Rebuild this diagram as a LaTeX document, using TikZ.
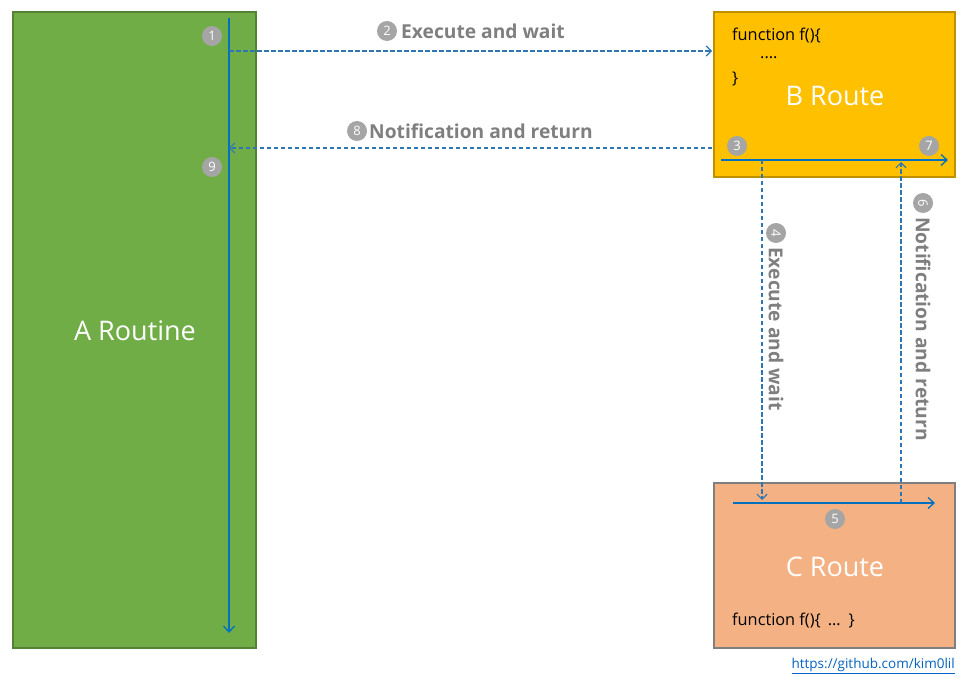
\documentclass[tikz,border=0pt]{standalone}
\usepackage{fontspec}
\setmainfont{Open Sans}
\usetikzlibrary{arrows.meta}
\definecolor{agreen}{HTML}{70AD47}
\definecolor{agreenb}{HTML}{548235}
\definecolor{byellow}{HTML}{FFC000}
\definecolor{byellowb}{HTML}{BF9000}
\definecolor{corange}{HTML}{F4B183}
\definecolor{corangeb}{HTML}{7F7F7F}
\definecolor{flowblue}{HTML}{0070C0}
\definecolor{dashblue}{HTML}{2E75B6}
\definecolor{numgray}{HTML}{A5A5A5}
\definecolor{labgray}{HTML}{7F7F7F}
\definecolor{linkblue}{HTML}{0563C1}
\begin{document}
\begin{tikzpicture}[x=1pt,y=-1pt,
  box/.style={draw, line width=1.5pt, inner sep=0pt},
  title/.style={text=white, font=\fontsize{27}{30}\selectfont},
  code/.style={text=black, font=\fontsize{16.3}{18}\selectfont, anchor=west, inner sep=0pt},
  flow/.style={draw=flowblue, line width=1.3pt, -{Straight Barb[length=6pt,width=11pt,line width=1.3pt]}},
  call/.style={draw=dashblue, line width=1.2pt, dash pattern=on 4.5pt off 2.5pt, -{Straight Barb[length=5pt,width=10pt,line width=1.2pt]}},
  num/.style={circle, fill=numgray, text=white, minimum size=20pt, inner sep=0pt, font=\fontsize{13}{14}\selectfont},
  lab/.style={text=labgray, font=\bfseries\fontsize{19.2}{21}\selectfont, inner sep=0pt}
]
\useasboundingbox[fill=white] (0,0) rectangle (966,684);

% boxes
\node[box, draw=agreenb, fill=agreen, minimum width=243pt, minimum height=636pt] (A) at (134.5,330) {};
\node[box, draw=byellowb, fill=byellow, minimum width=241pt, minimum height=165pt] (B) at (834.5,94.5) {};
\node[box, draw=corangeb, fill=corange, minimum width=241pt, minimum height=165pt] (C) at (834.5,565.5) {};

\node[title] (At) at (135,331) {A Routine};
\node[title] (Bt) at (835,96) {B Route};
\node[title] (Ct) at (835,567) {C Route};

\node[code] (bc1) at (732,36) {function f()\{};
\node[code] (bc2) at (760,58) {....};
\node[code] (bc3) at (732,79) {\}};
\node[code] (cc1) at (732,621) {function f()\{\hspace{7pt}…\hspace{8pt}\}};

% coordinates
\coordinate (a1) at (229,18);
\coordinate (a2) at (229,633);
\coordinate (a3) at (229,51);
\coordinate (b0) at (712,51);
\coordinate (b1) at (712,148);
\coordinate (a4) at (229,148);
\coordinate (b2) at (721,160);
\coordinate (b3) at (948,160);
\coordinate (b4) at (762,160);
\coordinate (c0) at (762,500);
\coordinate (c1) at (733,503);
\coordinate (c2) at (935,503);
\coordinate (c3) at (901,503);
\coordinate (b5) at (901,162);

% flows
\draw[flow] (a1) -- (a2);
\draw[flow] (b2) -- (b3);
\draw[flow] (c1) -- (c2);
\draw[call] (a3) -- (b0);
\draw[call] (b1) -- (a4);
\draw[call] (b4) -- (c0);
\draw[call] (c3) -- (b5);

% numbers
\node[num] (n1) at (212,36) {1};
\node[num] (n9) at (212,167) {9};
\node[num] (n2) at (387,31) {2};
\node[num] (n8) at (357,131) {8};
\node[num] (n3) at (737,146) {3};
\node[num] (n7) at (929,146) {7};
\node[num] (n5) at (835,519) {5};
\node[num, rotate=-90] (n4) at (776,233) {4};
\node[num, rotate=-90] (n6) at (923,203) {6};

% labels
\node[lab, anchor=west] (l2) at (401,31) {Execute and wait};
\node[lab, anchor=west] (l8) at (369,131) {Notification and return};
\node[lab, anchor=west, rotate=-90] (l4) at (776,247) {Execute and wait};
\node[lab, anchor=west, rotate=-90] (l6) at (923,217) {Notification and return};

% link
\node[text=linkblue, font=\fontsize{13.5}{15}\selectfont, anchor=east, inner sep=0pt] (url) at (955,666) {\underline{https://github.com/kim0lil}};
\end{tikzpicture}
\end{document}
